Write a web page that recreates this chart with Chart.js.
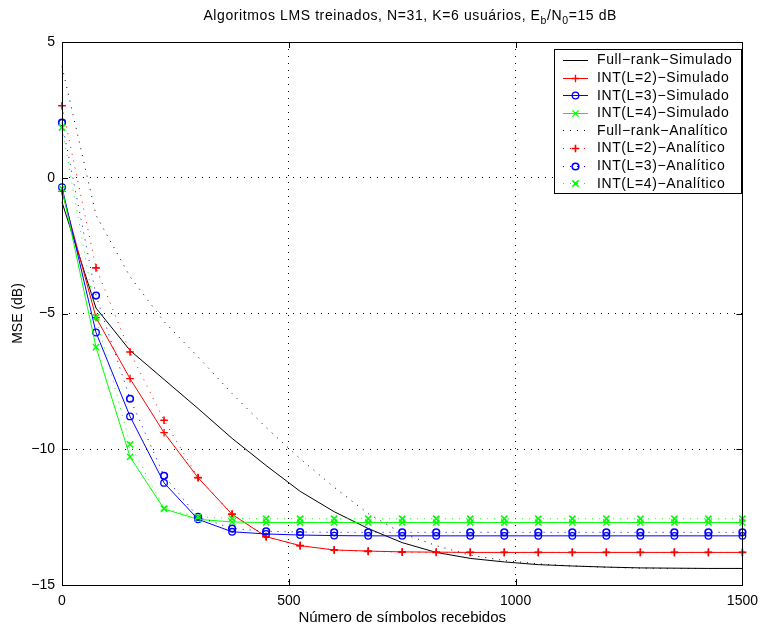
<!DOCTYPE html>
<html>
<head>
<meta charset="utf-8">
<script src="https://cdn.jsdelivr.net/npm/chart.js@4.4.1/dist/chart.umd.min.js"></script>
<style>
  html, body { margin: 0; padding: 0; background: #fff; }
  canvas { display: block; }
</style>
</head>
<body>
<canvas id="mseChart" width="766" height="625"></canvas>
<script>
// received symbols (x samples)
const symbols = [0, 75, 150, 225, 300, 375, 450, 525, 600, 675, 750, 825, 900, 975, 1050, 1125, 1200, 1275, 1350, 1425, 1500];

// simulated MSE (dB)
const fullRankSim = [-0.9, -4.8, -6.36, -7.43, -8.5, -9.6, -10.6, -11.55, -12.3, -12.92, -13.44, -13.8, -14.02, -14.15, -14.25, -14.3, -14.34, -14.37, -14.38, -14.39, -14.39];
const int2Sim = [-0.5, -5.15, -7.4, -9.39, -11.05, -12.4, -13.22, -13.55, -13.71, -13.75, -13.78, -13.79, -13.8, -13.8, -13.8, -13.8, -13.8, -13.8, -13.8, -13.8, -13.8];
const int3Sim = [-0.35, -5.7, -8.79, -11.24, -12.58, -13.04, -13.12, -13.16, -13.18, -13.19, -13.19, -13.19, -13.19, -13.19, -13.19, -13.19, -13.19, -13.19, -13.19, -13.19, -13.19];
const int4Sim = [-0.4, -6.24, -10.28, -12.2, -12.58, -12.68, -12.7, -12.7, -12.7, -12.7, -12.7, -12.7, -12.7, -12.7, -12.7, -12.7, -12.7, -12.7, -12.7, -12.7, -12.7];

// analytic MSE (dB)
const fullRankAna = [4.1, -1.38, -3.64, -5.3, -6.6, -7.95, -9.2, -10.35, -11.4, -12.37, -13.1, -13.55, -13.9, -14.1, -14.22, -14.3, -14.35, -14.38, -14.39, -14.39, -14.39];
const int2Ana = [2.65, -3.32, -6.42, -8.93, -11.04, -12.39, -13.22, -13.55, -13.71, -13.76, -13.79, -13.8, -13.8, -13.8, -13.8, -13.8, -13.8, -13.8, -13.8, -13.8, -13.8];
const int3Ana = [2.03, -4.34, -8.14, -10.98, -12.49, -12.92, -13.02, -13.05, -13.06, -13.06, -13.06, -13.06, -13.06, -13.06, -13.06, -13.06, -13.06, -13.06, -13.06, -13.06, -13.06];
const int4Ana = [1.85, -5.14, -9.82, -12.18, -12.49, -12.55, -12.56, -12.56, -12.56, -12.56, -12.56, -12.56, -12.56, -12.56, -12.56, -12.56, -12.56, -12.56, -12.56, -12.56, -12.56];

const seriesLabels = [
    'Full\u2212rank\u2212Simulado', 'INT(L=2)\u2212Simulado', 'INT(L=3)\u2212Simulado', 'INT(L=4)\u2212Simulado',
    'Full\u2212rank\u2212Anal\u00edtico', 'INT(L=2)\u2212Anal\u00edtico', 'INT(L=3)\u2212Anal\u00edtico', 'INT(L=4)\u2212Anal\u00edtico'
];
const xTicks = [0, 500, 1000, 1500];
const yTicks = [-15, -10, -5, 0, 5];

const FONT = "'Liberation Sans', Arial, Helvetica, sans-serif";
const DOTS = [1, 6];

const toPoints = (ys) => symbols.map((x, i) => ({ x: x, y: ys[i] }));
const minusify = (v) => String(v).replace('-', '\u2212');

function makeSet(i, ys, color, marker, dotted) {
    return {
        label: seriesLabels[i],
        data: toPoints(ys),
        borderColor: color,
        backgroundColor: color,
        borderWidth: 1,
        borderDash: dotted ? DOTS : [],
        pointStyle: marker || 'circle',
        pointRadius: marker ? (marker === 'circle' ? 3.3 : (marker === 'cross' ? 3.8 : 4.4)) : 0,
        pointBorderColor: color,
        pointBackgroundColor: 'rgba(0,0,0,0)',
        pointBorderWidth: dotted ? 1.6 : 1.3,
        tension: 0,
        clip: false,
        order: 7 - i // later series on top, like the original plot
    };
}

const datasets = [
    makeSet(0, fullRankSim, '#000000', null, false),
    makeSet(1, int2Sim, '#ff0000', 'cross', false),
    makeSet(2, int3Sim, '#0000ff', 'circle', false),
    makeSet(3, int4Sim, '#00ff00', 'crossRot', false),
    makeSet(4, fullRankAna, '#000000', null, true),
    makeSet(5, int2Ana, '#ff0000', 'cross', true),
    makeSet(6, int3Ana, '#0000ff', 'circle', true),
    makeSet(7, int4Ana, '#00ff00', 'crossRot', true)
];

// frame with inward ticks, title with subscripts, boxed legend
const decorations = {
    id: 'decorations',
    afterDatasetsDraw(chart) {
        const ctx = chart.ctx;
        const a = chart.chartArea;
        const sx = chart.scales.x, sy = chart.scales.y;
        ctx.save();
        ctx.strokeStyle = '#000';
        ctx.lineWidth = 1;
        ctx.setLineDash([]);
        ctx.strokeRect(Math.round(a.left) + 0.5, Math.round(a.top) + 0.5, Math.round(a.right - a.left), Math.round(a.bottom - a.top));
        const tl = 6;
        ctx.beginPath();
        xTicks.forEach(v => {
            const px = Math.round(sx.getPixelForValue(v)) + 0.5;
            ctx.moveTo(px, a.bottom); ctx.lineTo(px, a.bottom - tl);
            ctx.moveTo(px, a.top); ctx.lineTo(px, a.top + tl);
        });
        yTicks.forEach(v => {
            const py = Math.round(sy.getPixelForValue(v)) + 0.5;
            ctx.moveTo(a.left, py); ctx.lineTo(a.left + tl, py);
            ctx.moveTo(a.right, py); ctx.lineTo(a.right - tl, py);
        });
        ctx.stroke();
        ctx.restore();
    },
    afterDraw(chart) {
        const ctx = chart.ctx;
        const a = chart.chartArea;
        ctx.save();

        // title: Algoritmos LMS treinados, N=31, K=6 usuários, Eb/N0=15 dB
        const parts = [
            ['Algoritmos LMS treinados, N=31, K=6 usu\u00e1rios, E', false],
            ['b', true], ['/N', false], ['0', true], ['=15 dB', false]
        ];
        const big = '14px ' + FONT, small = '10.5px ' + FONT;
        ctx.letterSpacing = '0.6px';
        let total = 0;
        parts.forEach(p => { ctx.font = p[1] ? small : big; total += ctx.measureText(p[0]).width; });
        let tx = (a.left + a.right) / 2 + 8 - total / 2;
        const base = 20;
        ctx.fillStyle = '#000';
        ctx.textBaseline = 'alphabetic';
        ctx.textAlign = 'left';
        parts.forEach(p => {
            ctx.font = p[1] ? small : big;
            ctx.fillText(p[0], tx, p[1] ? base + 4 : base);
            tx += ctx.measureText(p[0]).width;
        });

        // legend box
        const bx = 554.5, by = 49.5, bw = 187, bh = 144;
        ctx.fillStyle = '#fff';
        ctx.fillRect(bx, by, bw, bh);
        ctx.strokeStyle = '#000';
        ctx.lineWidth = 1;
        ctx.strokeRect(bx, by, bw, bh);
        ctx.font = '14px ' + FONT;
        ctx.letterSpacing = '0.6px';
        ctx.textBaseline = 'middle';
        chart.data.datasets.forEach((ds, i) => {
            const y = 60 + i * 17.6;
            ctx.save();
            ctx.strokeStyle = ds.borderColor;
            ctx.lineWidth = ds.borderWidth;
            ctx.setLineDash(ds.borderDash);
            ctx.beginPath();
            ctx.moveTo(563, Math.round(y) + 0.5);
            ctx.lineTo(588, Math.round(y) + 0.5);
            ctx.stroke();
            ctx.restore();
            if (ds.pointRadius > 0) {
                ctx.save();
                ctx.strokeStyle = ds.pointBorderColor;
                ctx.fillStyle = 'rgba(0,0,0,0)';
                ctx.lineWidth = ds.pointBorderWidth;
                Chart.helpers.drawPoint(ctx, { pointStyle: ds.pointStyle, radius: ds.pointRadius, rotation: 0, borderWidth: ds.pointBorderWidth }, 575.5, Math.round(y) + 0.5);
                ctx.restore();
            }
            ctx.fillStyle = '#000';
            ctx.fillText(ds.label, 597, y + 0.5);
        });
        ctx.restore();
    }
};

const edgeTransparent = (lo, hi) => (c) => (c.tick && (c.tick.value === lo || c.tick.value === hi)) ? 'rgba(0,0,0,0)' : '#000';

new Chart(document.getElementById('mseChart'), {
    type: 'line',
    data: { datasets: datasets },
    options: {
        responsive: false,
        animation: false,
        events: [],
        layout: { padding: { top: 42, right: 18, left: 0, bottom: 0 } },
        plugins: {
            legend: { display: false },
            title: { display: false },
            tooltip: { enabled: false }
        },
        scales: {
            x: {
                type: 'linear',
                min: 0,
                max: 1500,
                afterFit: (s) => { s.height = 40; },
                afterBuildTicks: (s) => { s.ticks = xTicks.map(v => ({ value: v })); },
                ticks: { color: '#000', font: { family: FONT, size: 14 }, padding: 8, maxRotation: 0, autoSkip: false, callback: (v) => String(v) },
                grid: { color: edgeTransparent(0, 1500), lineWidth: 1, drawTicks: false },
                border: { display: false, dash: DOTS },
                title: { display: true, text: 'N\u00famero de s\u00edmbolos recebidos', color: '#000', font: { family: FONT, size: 15, lineHeight: 1.0 }, padding: { top: 0, bottom: 0 } }
            },
            y: {
                type: 'linear',
                min: -15,
                max: 5,
                afterFit: (s) => { s.width = 62; },
                afterBuildTicks: (s) => { s.ticks = yTicks.map(v => ({ value: v })); },
                ticks: { color: '#000', font: { family: FONT, size: 14 }, padding: 7, callback: (v) => minusify(v) },
                grid: { color: edgeTransparent(-15, 5), lineWidth: 1, drawTicks: false },
                border: { display: false, dash: DOTS },
                title: { display: true, text: 'MSE (dB)', color: '#000', font: { family: FONT, size: 14 }, padding: { top: 10, bottom: 0 } }
            }
        }
    },
    plugins: [decorations]
});
</script>
</body>
</html>
